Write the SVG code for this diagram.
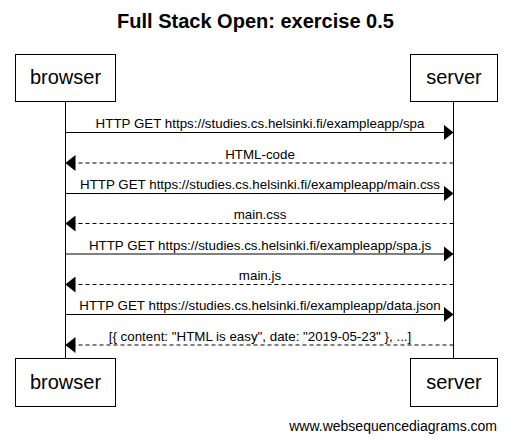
<svg xmlns="http://www.w3.org/2000/svg" width="511" height="442" viewBox="0 0 511 442">
<style>
text{font-family:"Liberation Sans",Arial,sans-serif;fill:#000}
.title{font-size:20px;font-weight:bold;text-anchor:middle}
.actor rect{fill:#fff;stroke:#000;stroke-width:1}
.actor text{font-size:20px;text-anchor:middle}
.life{stroke:#000;stroke-width:1}
.msg{stroke:#000;stroke-width:1;fill:none}
.dash{stroke-dasharray:4,3}
.lbl{font-size:13.35px;text-anchor:middle}
.foot{font-size:14px;text-anchor:end}
</style>
<defs>
<marker id="ah" viewBox="0 0 10 16" refX="10" refY="8" markerWidth="10" markerHeight="16" markerUnits="userSpaceOnUse" orient="auto">
<path d="M0,0 L10,8 L0,16 Z" fill="#000"/>
</marker>
</defs>
<rect width="511" height="442" fill="#fff"/>
<text class="title" x="255.5" y="28">Full Stack Open: exercise 0.5</text>
<g id="lifelines">
<line class="life" x1="65.5" y1="102" x2="65.5" y2="358"/>
<line class="life" x1="453.5" y1="102" x2="453.5" y2="358"/>
</g>
<g id="browser-top" class="actor"><rect x="15.5" y="54.5" width="100" height="47"/><text x="65.5" y="84">browser</text></g>
<g id="server-top" class="actor"><rect x="410.5" y="54.5" width="87" height="47"/><text x="454" y="84">server</text></g>
<g id="browser-bottom" class="actor"><rect x="15.5" y="358.5" width="100" height="48"/><text x="65.5" y="389">browser</text></g>
<g id="server-bottom" class="actor"><rect x="410.5" y="358.5" width="87" height="48"/><text x="454" y="389">server</text></g>
<g id="connectors">
<line class="msg" x1="65.5" y1="132.5" x2="453.5" y2="132.5" marker-end="url(#ah)"/>
<text class="lbl" x="260" y="128">HTTP GET https://studies.cs.helsinki.fi/exampleapp/spa</text>
<line class="msg dash" x1="453.5" y1="163" x2="65.5" y2="163" marker-end="url(#ah)"/>
<text class="lbl" x="260" y="158.5">HTML-code</text>
<line class="msg" x1="65.5" y1="193.5" x2="453.5" y2="193.5" marker-end="url(#ah)"/>
<text class="lbl" x="260" y="189">HTTP GET https://studies.cs.helsinki.fi/exampleapp/main.css</text>
<line class="msg dash" x1="453.5" y1="223.5" x2="65.5" y2="223.5" marker-end="url(#ah)"/>
<text class="lbl" x="260" y="219">main.css</text>
<line class="msg" x1="65.5" y1="254" x2="453.5" y2="254" marker-end="url(#ah)"/>
<text class="lbl" x="260" y="249.5">HTTP GET https://studies.cs.helsinki.fi/exampleapp/spa.js</text>
<line class="msg dash" x1="453.5" y1="284.5" x2="65.5" y2="284.5" marker-end="url(#ah)"/>
<text class="lbl" x="260" y="280">main.js</text>
<line class="msg" x1="65.5" y1="314.5" x2="453.5" y2="314.5" marker-end="url(#ah)"/>
<text class="lbl" x="260" y="310">HTTP GET https://studies.cs.helsinki.fi/exampleapp/data.json</text>
<line class="msg dash" x1="453.5" y1="345" x2="65.5" y2="345" marker-end="url(#ah)"/>
<text class="lbl" x="260" y="340.5">[{ content: "HTML is easy", date: "2019-05-23" }, ...]</text>
</g>
<text class="foot" x="497" y="431">www.websequencediagrams.com</text>
</svg>
